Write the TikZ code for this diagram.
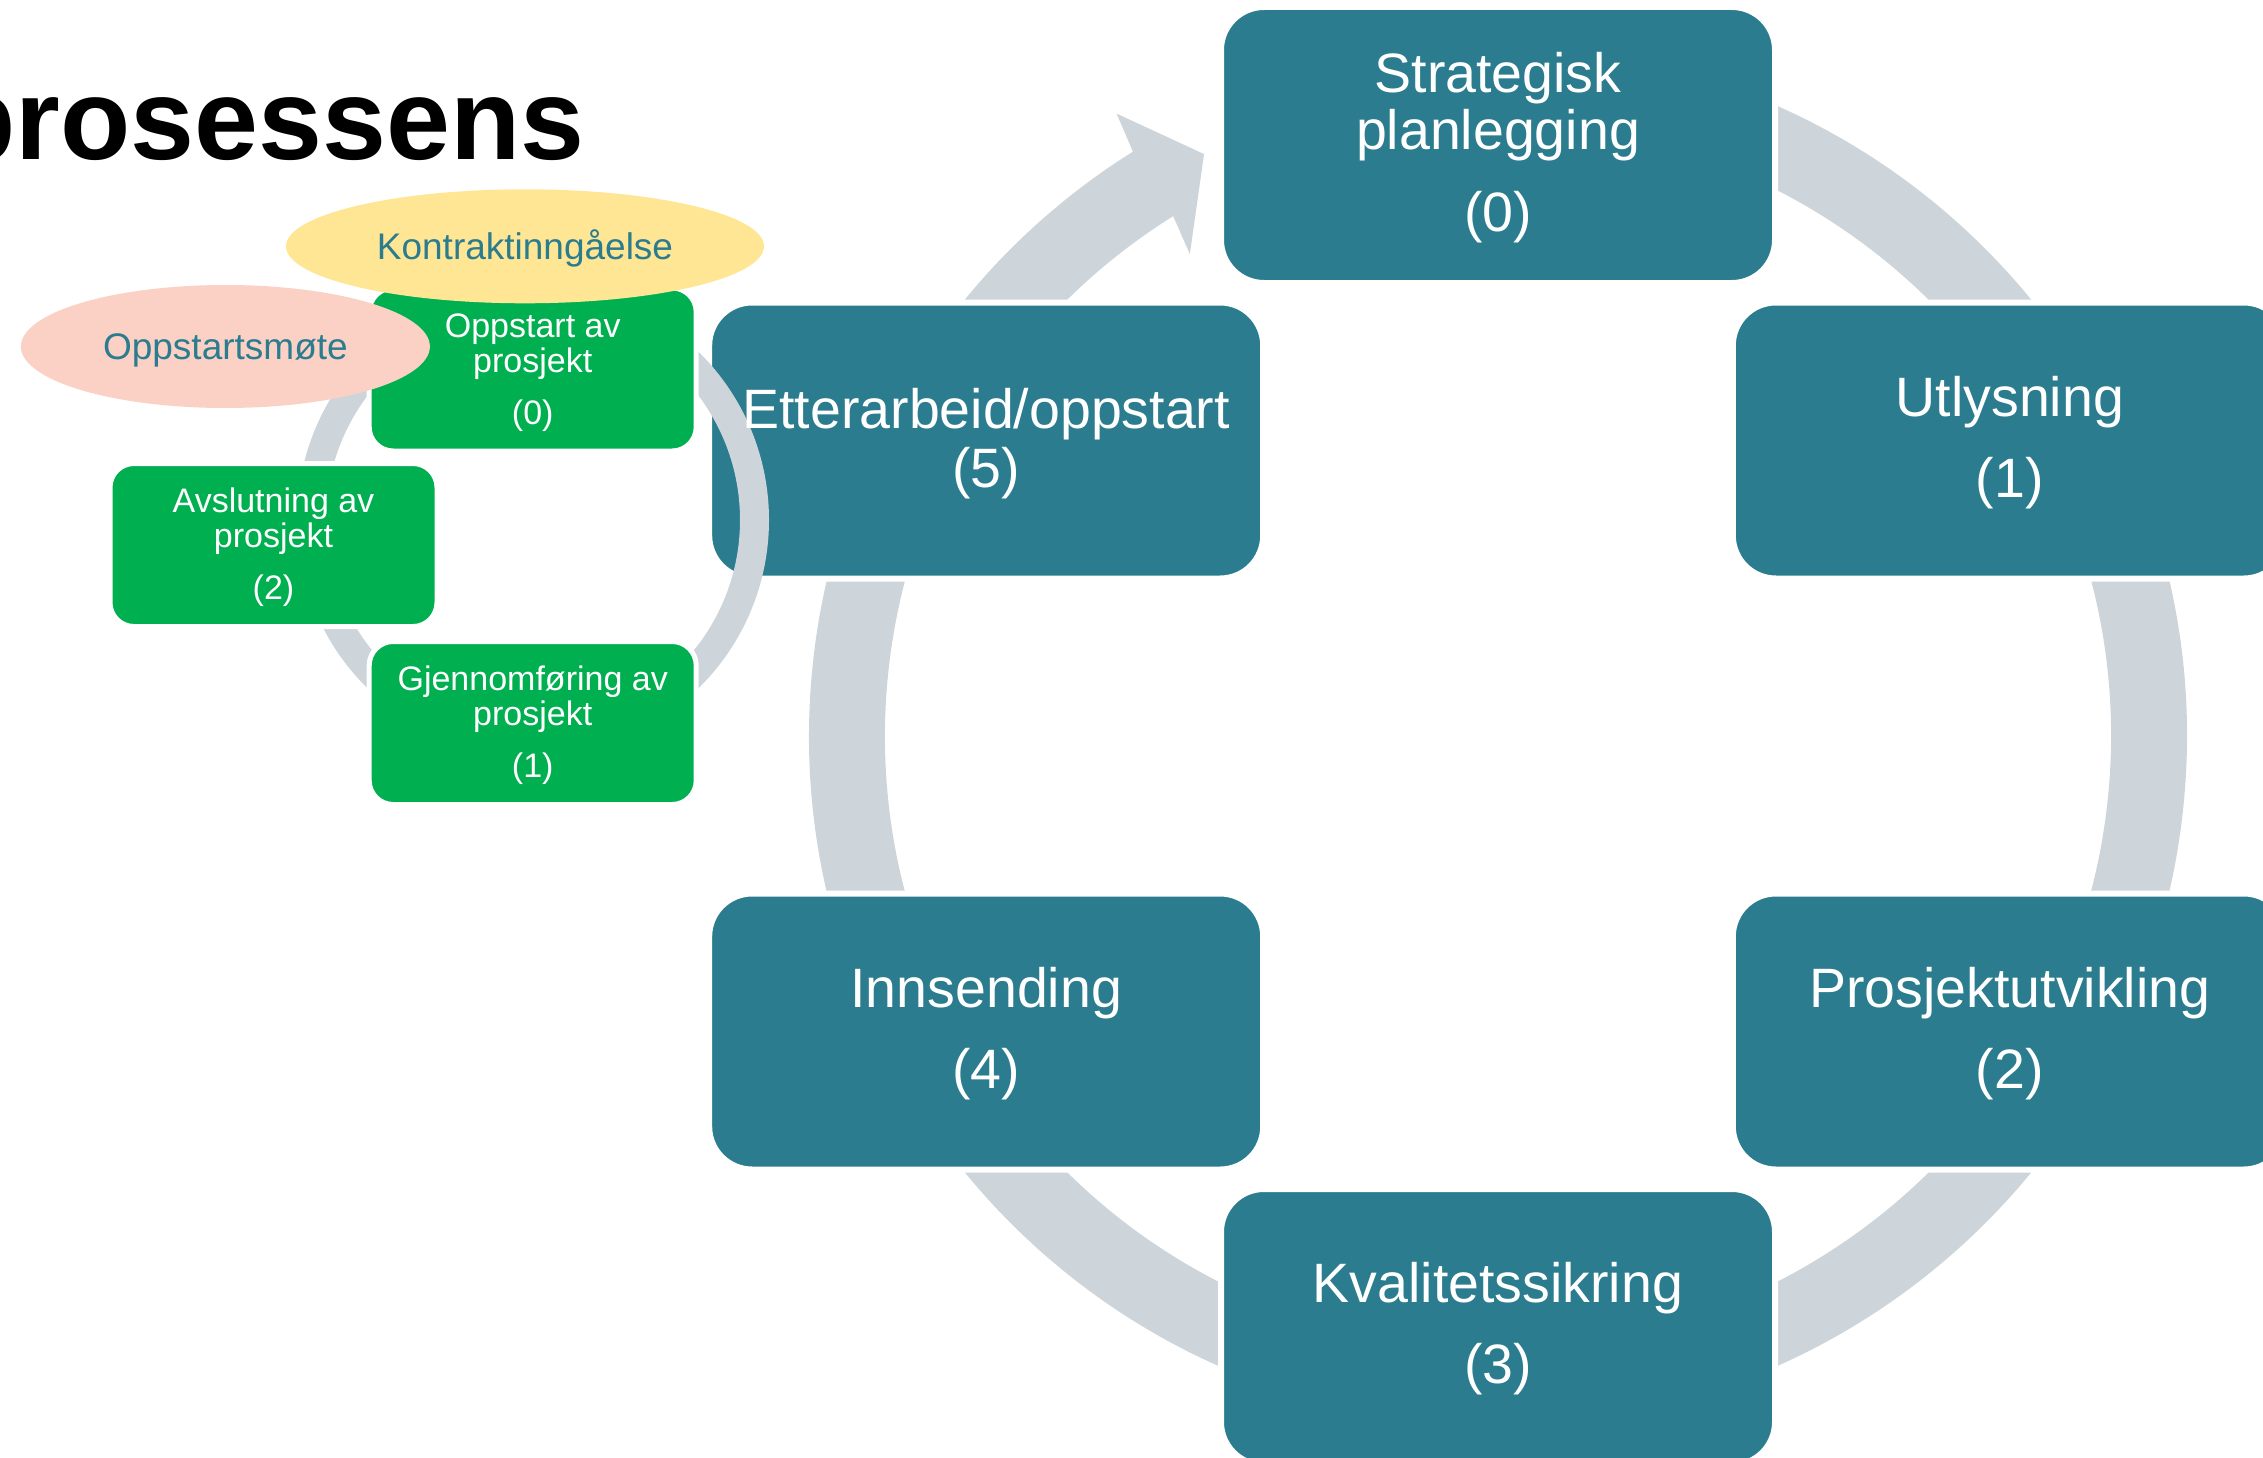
\documentclass[tikz,border=0pt]{standalone}
\usepackage{fontspec}
\setmainfont{Liberation Sans}
\usetikzlibrary{calc,shapes.geometric}

\definecolor{boxteal}{RGB}{42,124,142}
\definecolor{ringgrey}{RGB}{205,213,218}
\definecolor{boxgreen}{RGB}{0,176,80}
\definecolor{ovalyellow}{RGB}{255,230,148}
\definecolor{ovalpink}{RGB}{251,208,197}

\begin{document}
\begin{tikzpicture}[x=1pt,y=-1pt,
  bigbox/.style={rectangle, rounded corners=43pt, fill=boxteal, draw=white,
    line width=6pt, minimum width=554pt, minimum height=276pt, inner sep=0pt},
  smallbox/.style={rectangle, rounded corners=24pt, fill=boxgreen, draw=white,
    line width=5pt, minimum width=327pt, minimum height=163pt, inner sep=0pt},
  oval/.style={ellipse, inner sep=0pt},
  bigtext/.style={text=white, font=\fontsize{55.5}{60}\selectfont, anchor=base, inner sep=0pt},
  smalltext/.style={text=white, font=\fontsize{34}{38}\selectfont, anchor=base, inner sep=0pt},
  ovaltext/.style={text=boxteal, font=\fontsize{37}{40}\selectfont, anchor=base, inner sep=0pt},
]
\useasboundingbox (0,0) rectangle (2263,1458);

% ---------- main cycle: ring with arrow head ----------
\coordinate (C) at (1498,736);
\fill[ringgrey]
  ($(C)+(-85:689)$) arc[start angle=-85, end angle=238, radius=689]
  -- ($(C)+(238.5:730)$) -- ($(C)+(243.2:652)$) -- ($(C)+(237.4:572)$)
  -- ($(C)+(238:613)$) arc[start angle=238, end angle=-85, radius=613] -- cycle;

\node[bigbox] (s0) at ($(C)+(-90:591)$) {};
\node[bigbox] (s1) at ($(C)+(-30:591)$) {};
\node[bigbox] (s2) at ($(C)+(30:591)$) {};
\node[bigbox] (s3) at ($(C)+(90:591)$) {};
\node[bigbox] (s4) at ($(C)+(150:591)$) {};
\node[bigbox] (s5) at ($(C)+(210:591)$) {};

% ---------- project cycle ----------
\coordinate (D) at (533,520);
\fill[ringgrey, even odd rule] (D) circle[radius=236] (D) circle[radius=207];

\node[smallbox] (g0) at (532.7,369.5) {};
\node[smallbox] (g2) at (273.5,545) {};
\node[smallbox] (g1) at (532.7,723) {};

\node[oval, fill=ovalpink, minimum width=409pt, minimum height=123pt] (e1) at (225.4,346.5) {};
\node[oval, fill=ovalyellow, minimum width=478pt, minimum height=114pt] (e2) at (525,246.3) {};

% ---------- labels ----------
\node[bigtext] (t0a) at ($(s0.center)+(0,-52.7)$) {Strategisk};
\node[bigtext] (t0b) at ($(s0.center)+(0,5)$) {planlegging};
\node[bigtext] (t0c) at ($(s0.center)+(0,86.7)$) {(0)};

\node[bigtext] (t1a) at ($(s1.center)+(0,-24.5)$) {Utlysning};
\node[bigtext] (t1b) at ($(s1.center)+(0,56.5)$) {(1)};

\node[bigtext] (t2a) at ($(s2.center)+(0,-24.5)$) {Prosjektutvikling};
\node[bigtext] (t2b) at ($(s2.center)+(0,56.5)$) {(2)};

\node[bigtext] (t3a) at ($(s3.center)+(0,-24.5)$) {Kvalitetssikring};
\node[bigtext] (t3b) at ($(s3.center)+(0,56.5)$) {(3)};

\node[bigtext] (t4a) at ($(s4.center)+(0,-24.5)$) {Innsending};
\node[bigtext] (t4b) at ($(s4.center)+(0,56.5)$) {(4)};

\node[bigtext] (t5a) at ($(s5.center)+(0,-12.5)$) {Etterarbeid/oppstart};
\node[bigtext] (t5b) at ($(s5.center)+(0,46.5)$) {(5)};

\node[smalltext] (u0a) at ($(g0.center)+(0,-32.5)$) {Oppstart av};
\node[smalltext] (u0b) at ($(g0.center)+(0,2.5)$) {prosjekt};
\node[smalltext] (u0c) at ($(g0.center)+(0,54.5)$) {(0)};

\node[smalltext] (u1a) at ($(g1.center)+(0,-32.5)$) {Gjennomføring av};
\node[smalltext] (u1b) at ($(g1.center)+(0,2.5)$) {prosjekt};
\node[smalltext] (u1c) at ($(g1.center)+(0,54.5)$) {(1)};

\node[smalltext] (u2a) at ($(g2.center)+(0,-32.5)$) {Avslutning av};
\node[smalltext] (u2b) at ($(g2.center)+(0,2.5)$) {prosjekt};
\node[smalltext] (u2c) at ($(g2.center)+(0,54.5)$) {(2)};

\node[ovaltext] (o1) at (225.4,359) {Oppstartsmøte};
\node[ovaltext] (o2) at (525,259.3) {Kontraktinngåelse};

% ---------- heading ----------
\node[anchor=base west, inner sep=0pt, font=\fontsize{115}{120}\selectfont\bfseries] (title) at (-54.7,160) {prosessens};
\end{tikzpicture}
\end{document}
